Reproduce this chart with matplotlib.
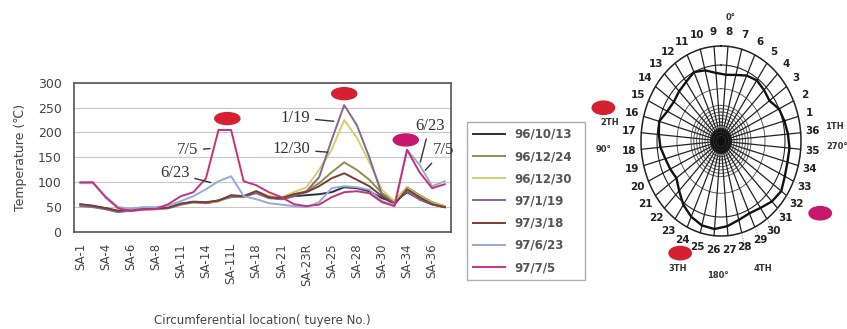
import numpy as np
import matplotlib.pyplot as plt
from matplotlib.patches import Ellipse

plt.rcParams['font.family'] = ['DejaVu Sans', 'Noto Sans CJK JP']

# tuyere positions along the circumference (every other one is labelled)
tick_labels = ['SA-1', 'SA-4', 'SA-6', 'SA-8', 'SA-11', 'SA-14', 'SA-11L', 'SA-18',
               'SA-21', 'SA-23R', 'SA-25', 'SA-28', 'SA-30', 'SA-34', 'SA-36']

dates = ['96/10/13', '96/12/24', '96/12/30', '97/1/19', '97/3/18', '97/6/23', '97/7/5']
colors = ['#2c2c48', '#8f9047', '#d6cf6a', '#86669a', '#7a3e30', '#93abd6', '#c7327e']

t_961013 = [55, 52, 48, 42, 44, 46, 46, 48, 56, 60, 58, 62, 72, 70, 80,
            70, 66, 72, 74, 76, 80, 90, 88, 82, 68, 60, 80, 66, 56, 50]
t_961224 = [54, 52, 47, 41, 44, 46, 47, 49, 57, 60, 59, 63, 73, 72, 82,
            72, 68, 76, 82, 98, 120, 140, 125, 105, 78, 62, 90, 74, 60, 52]
t_961230 = [53, 51, 46, 40, 43, 45, 46, 48, 55, 59, 58, 62, 70, 71, 80,
            71, 70, 80, 90, 125, 165, 225, 190, 140, 85, 62, 88, 72, 58, 52]
t_970119 = [52, 50, 46, 40, 43, 46, 47, 48, 55, 60, 58, 64, 70, 72, 78,
            68, 66, 72, 82, 110, 185, 255, 215, 150, 75, 58, 82, 65, 55, 50]
t_970318 = [56, 53, 48, 43, 45, 47, 47, 49, 57, 61, 60, 63, 74, 72, 82,
            70, 68, 76, 80, 92, 108, 118, 105, 92, 72, 55, 86, 70, 56, 50]
t_970623 = [98, 98, 72, 50, 47, 50, 50, 53, 62, 72, 86, 102, 112, 72, 66,
            58, 55, 52, 50, 60, 88, 92, 90, 85, 62, 55, 165, 135, 92, 102]
t_970705 = [100, 100, 70, 48, 42, 45, 46, 56, 72, 80, 108, 205, 205, 102, 94,
            80, 70, 56, 52, 55, 70, 80, 82, 78, 60, 52, 165, 120, 88, 96]
series = [t_961013, t_961224, t_961230, t_970119, t_970318, t_970623, t_970705]

# temperature contour on the hearth section, one radius per tuyere 1..36
tuyere_no = list(range(1, 37))
contour_r = [0.82, 0.80, 0.74, 0.76, 0.78, 0.76, 0.72, 0.70, 0.72, 0.77, 0.80, 0.76,
             0.74, 0.72, 0.74, 0.80, 0.78, 0.76, 0.72, 0.70, 0.68, 0.74, 0.82, 0.88,
             0.92, 0.93, 0.90, 0.86, 0.84, 0.86, 0.90, 0.92, 0.88, 0.86, 0.86, 0.84]

fig = plt.figure(figsize=(8.47, 3.29), dpi=100)
ax = fig.add_axes([0.0874, 0.2948, 0.4451, 0.4538])

x = np.arange(len(t_961013))
for vals, c, lab in zip(series, colors, dates):
    ax.plot(x, vals, color=c, lw=1.4, label=lab)

ax.set_xlim(-0.5, len(x) - 0.5)
ax.set_ylim(0, 300)
ax.set_yticks(range(0, 301, 50))
ax.set_xticks(range(0, len(x), 2))
ax.set_xticklabels(tick_labels, rotation=90, fontsize=8.5, color='#444')
ax.tick_params(axis='y', length=0, pad=9, labelsize=9, labelcolor='#444')
ax.tick_params(axis='x', length=0, pad=8)
ax.grid(axis='y', color='#c8c8c8', lw=0.8)
ax.set_axisbelow(True)
for s in ax.spines.values():
    s.set_color('#555')
    s.set_linewidth(1.2)
ax.set_ylabel('Temperature (℃)', fontsize=9, color='#444', labelpad=8)
ax.set_xlabel('Circumferential location( tuyere No.)', fontsize=8.5, color='#444', labelpad=20)

# hot spots
for cx, cy, col in [(11.7, 228, '#d42030'), (21.0, 278, '#d42030'), (25.9, 185, '#c8186e')]:
    ax.add_patch(Ellipse((cx, cy), 2.0, 24, color=col, clip_on=False, zorder=5))

arrow = dict(arrowstyle='-', color='#333', lw=1.0)
notes = [('7/5', (10.55, 168), (8.5, 164)),
         ('6/23', (10.6, 98), (7.5, 118)),
         ('1/19', (20.4, 222), (17.1, 230)),
         ('12/30', (19.9, 160), (16.8, 166)),
         ('6/23', (27.0, 135), (27.8, 214)),
         ('7/5', (27.3, 120), (28.9, 164))]
for txt, xy, xyt in notes:
    ax.annotate(txt, xy=xy, xytext=xyt, ha='center', va='center', fontsize=12,
                family='Liberation Serif', color='#333', arrowprops=arrow,
                annotation_clip=False)

fig.legend(loc='upper left', bbox_to_anchor=(467 / 847, 1 - 282 / 329, 118 / 847, 160 / 329),
           mode='expand', frameon=True, fancybox=False, edgecolor='#999',
           prop={'size': 8.5, 'weight': 'bold'}, labelcolor='#555',
           handlelength=2.7, labelspacing=0.78, borderaxespad=0, borderpad=0.5)

# hearth cross section
ax2 = fig.add_axes([0.7001, 0.1527, 0.2928, 0.8374])
ax2.set_xlim(-1.6, 1.5)
ax2.set_ylim(-1.45, 1.45)
ax2.axis('off')

t = np.linspace(0, 2 * np.pi, 361)
ax2.plot(np.sin(t), np.cos(t), color='#222', lw=1.1)
ax2.plot(0.8 * np.sin(t), 0.8 * np.cos(t), color='#222', lw=0.8)
ax2.plot(0.55 * np.sin(t), 0.55 * np.cos(t), color='#444', lw=0.6)
for r in np.arange(0.06, 0.4, 0.035):
    ax2.plot(r * np.sin(t), r * np.cos(t), color='#333', lw=0.7, alpha=0.8)
ax2.add_patch(Ellipse((0, 0), 0.26, 0.26, color='#111'))

phi = np.radians([75 - (k - 1) * 10 for k in tuyere_no])
for k, a in zip(tuyere_no, phi):
    ax2.plot([0.12 * np.sin(a), 1.0 * np.sin(a)], [0.12 * np.cos(a), 1.0 * np.cos(a)],
             color='#222', lw=0.9)
    if 28 <= k <= 33:
        ax2.plot([1.0 * np.sin(a), 1.2 * np.sin(a)], [1.0 * np.cos(a), 1.2 * np.cos(a)],
                 color='#888', lw=0.7, ls=':')
    ax2.text(1.15 * np.sin(a), 1.15 * np.cos(a), str(k), ha='center', va='center',
             fontsize=7.5, weight='bold', color='#222')

cr = np.array(contour_r + contour_r[:1])
ca = np.append(phi, phi[0])
ax2.plot(cr * np.sin(ca), cr * np.cos(ca), color='#111', lw=1.7)

for txt, px, py in [('0°', 0.12, 1.3), ('180°', -0.04, -1.42), ('90°', -1.47, -0.09),
                    ('270°', 1.45, -0.06), ('1TH', 1.42, 0.15), ('2TH', -1.39, 0.2),
                    ('3TH', -0.54, -1.34), ('4TH', 0.52, -1.34)]:
    ax2.text(px, py, txt, ha='center', va='center', fontsize=6, weight='bold',
             color='#333', clip_on=False)

for cx, cy, col in [(-1.47, 0.35, '#d42030'), (-0.51, -1.18, '#d42030'), (1.24, -0.76, '#c8186e')]:
    ax2.add_patch(Ellipse((cx, cy), 0.28, 0.14, color=col, clip_on=False, zorder=5))

fig.savefig('out.png', dpi=100)
